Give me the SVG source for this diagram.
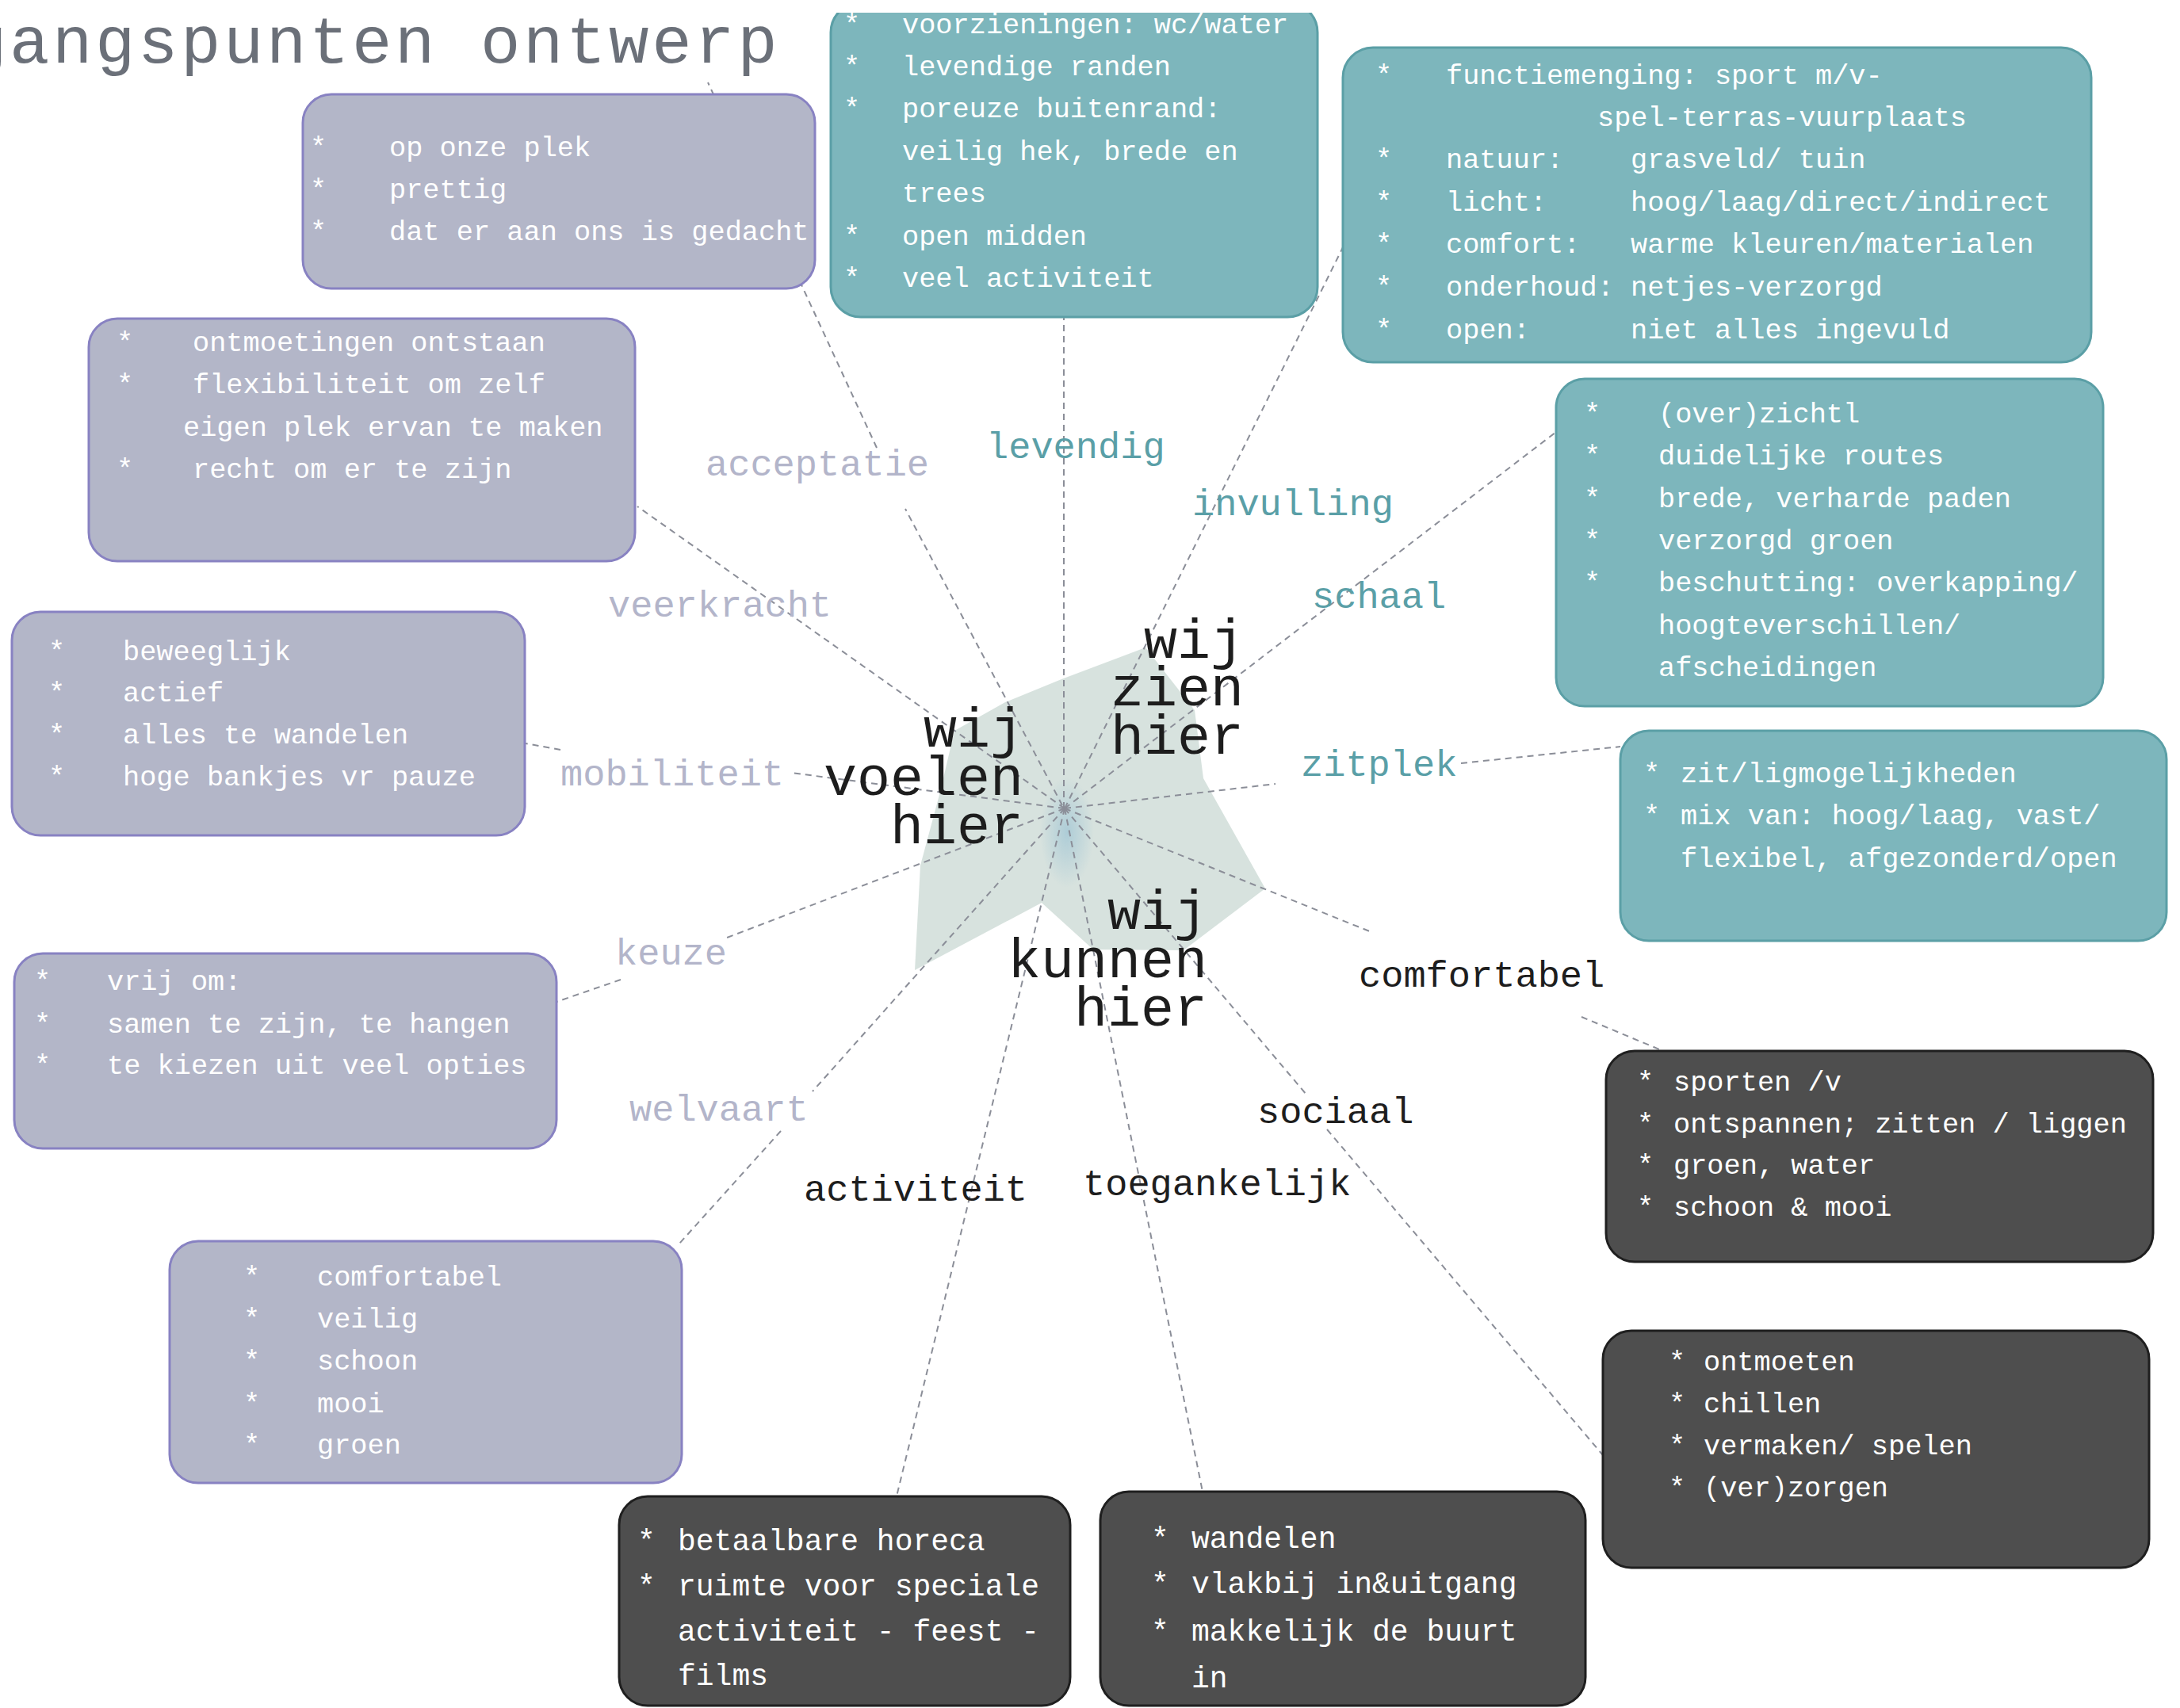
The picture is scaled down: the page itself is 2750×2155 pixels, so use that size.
<svg xmlns="http://www.w3.org/2000/svg" width="2750" height="2155" viewBox="0 0 2750 2155">
<defs>
<style>
.bp{fill:#b3b6c8;stroke:#8882c2;stroke-width:3}
.bt{fill:#7db6bc;stroke:#5b9fa6;stroke-width:3}
.bd{fill:#4e4e4e;stroke:#1f1f1f;stroke-width:3}
.tx{font-family:"Liberation Mono","DejaVu Sans Mono",monospace;font-size:35.3px;fill:#ffffff}
.tx2{font-family:"Liberation Mono","DejaVu Sans Mono",monospace;font-size:38px;fill:#ffffff}
.lab{font-family:"Liberation Mono","DejaVu Sans Mono",monospace;font-size:47px}
.lp{fill:#b3b5ca}
.lt{fill:#5a9fa7}
.lk{fill:#1e1e1e}
.ctr{font-family:"Liberation Mono","DejaVu Sans Mono",monospace;font-size:70px;fill:#1d1d1d;text-anchor:end}
.title{font-family:"Liberation Mono","DejaVu Sans Mono",monospace;font-size:84px;letter-spacing:3.6px;fill:#6b7079}
#connectors line{stroke:#8b8e98;stroke-width:2;stroke-dasharray:8 6;fill:none}
</style>
<clipPath id="clipB"><rect x="1000" y="16" width="720" height="420"/></clipPath>
<radialGradient id="glow" cx="0.5" cy="0.5" r="0.5">
<stop offset="0" stop-color="#a9cad6" stop-opacity="0.9"/>
<stop offset="1" stop-color="#a9cad6" stop-opacity="0"/>
</radialGradient>
</defs>
<rect x="0" y="0" width="2750" height="2155" fill="#ffffff"/>

<text class="title" x="-42" y="79">gangspunten ontwerp</text>

<g id="radar">
<polygon points="1339,857 1445,817 1507,896 1518,982 1596,1121 1493,1199 1379,1198 1314,1139 1154,1224 1161,1092 1186,999 1204,922 1268,886" fill="#d5e0dc" opacity="0.95"/>
<ellipse cx="1346" cy="1050" rx="34" ry="70" fill="url(#glow)"/>
</g>

<g id="connectors">
<line x1="1342" y1="1020" x2="1342" y2="400"/>
<line x1="1340" y1="1016" x2="1142" y2="642"/>
<line x1="1106" y1="565" x2="893" y2="104"/>
<line x1="1343" y1="1020" x2="804" y2="639"/>
<line x1="1343" y1="1020" x2="998" y2="975"/>
<line x1="707" y1="946" x2="663" y2="938"/>
<line x1="1343" y1="1020" x2="917" y2="1183"/>
<line x1="783" y1="1236" x2="702" y2="1264"/>
<line x1="1343" y1="1020" x2="1025" y2="1377"/>
<line x1="985" y1="1427" x2="857" y2="1569"/>
<line x1="1343" y1="1020" x2="1131" y2="1888"/>
<line x1="1343" y1="1020" x2="1517" y2="1882"/>
<line x1="1343" y1="1020" x2="1648" y2="1381"/>
<line x1="1674" y1="1425" x2="2022" y2="1836"/>
<line x1="1343" y1="1020" x2="1730" y2="1176"/>
<line x1="1995" y1="1283" x2="2098" y2="1326"/>
<line x1="1343" y1="1020" x2="1609" y2="989"/>
<line x1="1843" y1="963" x2="2044" y2="942"/>
<line x1="1343" y1="1020" x2="1963" y2="545"/>
<line x1="1343" y1="1020" x2="1694" y2="312"/>
</g>

<g id="labels">
<text class="lab lp" x="890" y="600">acceptatie</text>
<text class="lab lt" x="1244" y="578">levendig</text>
<text class="lab lt" x="1504" y="650">invulling</text>
<text class="lab lp" x="767" y="778">veerkracht</text>
<text class="lab lt" x="1655" y="767">schaal</text>
<text class="lab lp" x="707" y="991">mobiliteit</text>
<text class="lab lt" x="1641" y="979">zitplek</text>
<text class="lab lp" x="776" y="1217">keuze</text>
<text class="lab lk" x="1714" y="1245">comfortabel</text>
<text class="lab lp" x="794" y="1414">welvaart</text>
<text class="lab lk" x="1586" y="1417">sociaal</text>
<text class="lab lk" x="1014" y="1515">activiteit</text>
<text class="lab lk" x="1366" y="1508">toegankelijk</text>
</g>

<g id="center-labels">
<text class="ctr"><tspan x="1291" y="942">wij</tspan><tspan x="1291" y="1003">voelen</tspan><tspan x="1291" y="1064">hier</tspan></text>
<text class="ctr"><tspan x="1569" y="830">wij</tspan><tspan x="1569" y="890">zien</tspan><tspan x="1569" y="951">hier</tspan></text>
<text class="ctr"><tspan x="1523" y="1172">wij</tspan><tspan x="1523" y="1233">kunnen</tspan><tspan x="1523" y="1294">hier</tspan></text>
</g>

<g id="box-acceptatie">
<rect class="bp" x="382" y="119" width="646" height="245" rx="36"/>
<text class="tx"><tspan x="391" y="197">*</tspan><tspan x="491" y="197">op onze plek</tspan><tspan x="391" y="250">*</tspan><tspan x="491" y="250">prettig</tspan><tspan x="391" y="303">*</tspan><tspan x="491" y="303">dat er aan ons is gedacht</tspan></text>
</g>

<g id="box-levendig">
<rect class="bt" x="1048" y="3" width="614" height="397" rx="38" clip-path="url(#clipB)"/>
<text class="tx"><tspan x="1064" y="42">*</tspan><tspan x="1138" y="42">voorzieningen: wc/water</tspan><tspan x="1064" y="95">*</tspan><tspan x="1138" y="95">levendige randen</tspan><tspan x="1064" y="148">*</tspan><tspan x="1138" y="148">poreuze buitenrand:</tspan><tspan x="1138" y="202">veilig hek, brede en</tspan><tspan x="1138" y="255">trees</tspan><tspan x="1064" y="309">*</tspan><tspan x="1138" y="309">open midden</tspan><tspan x="1064" y="362">*</tspan><tspan x="1138" y="362">veel activiteit</tspan></text>
</g>

<g id="box-invulling">
<rect class="bt" x="1694" y="60" width="944" height="397" rx="38"/>
<text class="tx"><tspan x="1735" y="106">*</tspan><tspan x="1824" y="106">functiemenging: sport m/v-</tspan><tspan x="2015" y="159">spel-terras-vuurplaats</tspan><tspan x="1735" y="212">*</tspan><tspan x="1824" y="212">natuur:</tspan><tspan x="2057" y="212">grasveld/ tuin</tspan><tspan x="1735" y="266">*</tspan><tspan x="1824" y="266">licht:</tspan><tspan x="2057" y="266">hoog/laag/direct/indirect</tspan><tspan x="1735" y="319">*</tspan><tspan x="1824" y="319">comfort:</tspan><tspan x="2057" y="319">warme kleuren/materialen</tspan><tspan x="1735" y="373">*</tspan><tspan x="1824" y="373">onderhoud:</tspan><tspan x="2057" y="373">netjes-verzorgd</tspan><tspan x="1735" y="427">*</tspan><tspan x="1824" y="427">open:</tspan><tspan x="2057" y="427">niet alles ingevuld</tspan></text>
</g>

<g id="box-schaal">
<rect class="bt" x="1963" y="478" width="690" height="413" rx="36"/>
<text class="tx"><tspan x="1998" y="533">*</tspan><tspan x="2092" y="533">(over)zichtl</tspan><tspan x="1998" y="586">*</tspan><tspan x="2092" y="586">duidelijke routes</tspan><tspan x="1998" y="640">*</tspan><tspan x="2092" y="640">brede, verharde paden</tspan><tspan x="1998" y="693">*</tspan><tspan x="2092" y="693">verzorgd groen</tspan><tspan x="1998" y="746">*</tspan><tspan x="2092" y="746">beschutting: overkapping/</tspan><tspan x="2092" y="800">hoogteverschillen/</tspan><tspan x="2092" y="853">afscheidingen</tspan></text>
</g>

<g id="box-zitplek">
<rect class="bt" x="2044" y="922" width="689" height="265" rx="36"/>
<text class="tx"><tspan x="2073" y="987">*</tspan><tspan x="2120" y="987">zit/ligmogelijkheden</tspan><tspan x="2073" y="1040">*</tspan><tspan x="2120" y="1040">mix van: hoog/laag, vast/</tspan><tspan x="2120" y="1094">flexibel, afgezonderd/open</tspan></text>
</g>

<g id="box-veerkracht">
<rect class="bp" x="112" y="402" width="689" height="306" rx="36"/>
<text class="tx"><tspan x="147" y="443">*</tspan><tspan x="243" y="443">ontmoetingen ontstaan</tspan><tspan x="147" y="496">*</tspan><tspan x="243" y="496">flexibiliteit om zelf</tspan><tspan x="231" y="550">eigen plek ervan te maken</tspan><tspan x="147" y="603">*</tspan><tspan x="243" y="603">recht om er te zijn</tspan></text>
</g>

<g id="box-mobiliteit">
<rect class="bp" x="15" y="772" width="647" height="282" rx="36"/>
<text class="tx"><tspan x="61" y="833">*</tspan><tspan x="155" y="833">beweeglijk</tspan><tspan x="61" y="885">*</tspan><tspan x="155" y="885">actief</tspan><tspan x="61" y="938">*</tspan><tspan x="155" y="938">alles te wandelen</tspan><tspan x="61" y="991">*</tspan><tspan x="155" y="991">hoge bankjes vr pauze</tspan></text>
</g>

<g id="box-keuze">
<rect class="bp" x="18" y="1203" width="684" height="246" rx="36"/>
<text class="tx"><tspan x="43" y="1249">*</tspan><tspan x="135" y="1249">vrij om:</tspan><tspan x="43" y="1303">*</tspan><tspan x="135" y="1303">samen te zijn, te hangen</tspan><tspan x="43" y="1355">*</tspan><tspan x="135" y="1355">te kiezen uit veel opties</tspan></text>
</g>

<g id="box-welvaart">
<rect class="bp" x="214" y="1566" width="646" height="305" rx="36"/>
<text class="tx"><tspan x="307" y="1622">*</tspan><tspan x="400" y="1622">comfortabel</tspan><tspan x="307" y="1675">*</tspan><tspan x="400" y="1675">veilig</tspan><tspan x="307" y="1728">*</tspan><tspan x="400" y="1728">schoon</tspan><tspan x="307" y="1782">*</tspan><tspan x="400" y="1782">mooi</tspan><tspan x="307" y="1834">*</tspan><tspan x="400" y="1834">groen</tspan></text>
</g>

<g id="box-comfortabel">
<rect class="bd" x="2026" y="1326" width="690" height="266" rx="36"/>
<text class="tx"><tspan x="2065" y="1376">*</tspan><tspan x="2111" y="1376">sporten /v</tspan><tspan x="2065" y="1429">*</tspan><tspan x="2111" y="1429">ontspannen; zitten / liggen</tspan><tspan x="2065" y="1481">*</tspan><tspan x="2111" y="1481">groen, water</tspan><tspan x="2065" y="1534">*</tspan><tspan x="2111" y="1534">schoon &amp; mooi</tspan></text>
</g>

<g id="box-sociaal">
<rect class="bd" x="2022" y="1679" width="689" height="299" rx="36"/>
<text class="tx"><tspan x="2105" y="1729">*</tspan><tspan x="2149" y="1729">ontmoeten</tspan><tspan x="2105" y="1782">*</tspan><tspan x="2149" y="1782">chillen</tspan><tspan x="2105" y="1835">*</tspan><tspan x="2149" y="1835">vermaken/ spelen</tspan><tspan x="2105" y="1888">*</tspan><tspan x="2149" y="1888">(ver)zorgen</tspan></text>
</g>

<g id="box-activiteit">
<rect class="bd" x="781" y="1888" width="569" height="264" rx="36"/>
<text class="tx2"><tspan x="804" y="1956">*</tspan><tspan x="855" y="1956">betaalbare horeca</tspan><tspan x="804" y="2013">*</tspan><tspan x="855" y="2013">ruimte voor speciale</tspan><tspan x="855" y="2070">activiteit - feest -</tspan><tspan x="855" y="2126">films</tspan></text>
</g>

<g id="box-toegankelijk">
<rect class="bd" x="1388" y="1882" width="612" height="270" rx="36"/>
<text class="tx2"><tspan x="1452" y="1953">*</tspan><tspan x="1503" y="1953">wandelen</tspan><tspan x="1452" y="2010">*</tspan><tspan x="1503" y="2010">vlakbij in&amp;uitgang</tspan><tspan x="1452" y="2070">*</tspan><tspan x="1503" y="2070">makkelijk de buurt</tspan><tspan x="1503" y="2129">in</tspan></text>
</g>
</svg>
